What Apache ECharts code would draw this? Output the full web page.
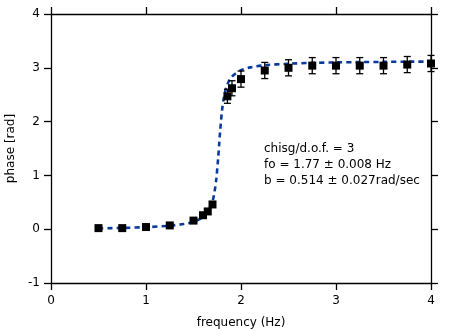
<!DOCTYPE html>
<html>
<head>
<meta charset="utf-8">
<script src="https://cdn.jsdelivr.net/npm/echarts@6/dist/echarts.min.js"></script>
<style>
html,body{margin:0;padding:0;background:#fff;}
#chart{width:459px;height:329px;}
</style>
</head>
<body>
<div id="chart"></div>
<script>
// Measured data
const freq = [0.5, 0.75, 1.0, 1.25, 1.5, 1.6, 1.65, 1.7, 1.857, 1.905, 2.0, 2.25, 2.5, 2.75, 3.0, 3.25, 3.5, 3.75, 4.0];
const phase = [0.02, 0.02, 0.04, 0.07, 0.16, 0.26, 0.33, 0.46, 2.47, 2.62, 2.79, 2.95, 3.0, 3.04, 3.04, 3.04, 3.04, 3.06, 3.08];
const phaseErr = [0.03, 0.03, 0.03, 0.03, 0.03, 0.03, 0.03, 0.04, 0.13, 0.14, 0.15, 0.15, 0.15, 0.15, 0.15, 0.15, 0.15, 0.15, 0.15];

// Fit curve
const fitFreq = [0.5, 0.75, 1.0, 1.25, 1.4, 1.5, 1.6, 1.65, 1.7, 1.72, 1.74, 1.76, 1.77, 1.78, 1.8, 1.82, 1.85, 1.9, 2.0, 2.1, 2.25, 2.5, 2.75, 3.0, 3.25, 3.5, 3.75, 4.0];
const fitPhase = [0.014, 0.024, 0.038, 0.065, 0.097, 0.138, 0.225, 0.318, 0.52, 0.679, 0.934, 1.331, 1.571, 1.81, 2.2, 2.449, 2.66, 2.827, 2.955, 3.008, 3.047, 3.076, 3.091, 3.1, 3.106, 3.11, 3.114, 3.116];

const xTicks = [0, 1, 2, 3, 4];
const yTicks = [-1, 0, 1, 2, 3, 4];

const annotation = ['chisg/d.o.f. = 3', 'fo = 1.77 \u00b1 0.008 Hz', 'b = 0.514 \u00b1 0.027rad/sec'];

const FONT = 'DejaVu Sans';
const chart = echarts.init(document.getElementById('chart'), null, {renderer: 'canvas'});

const axisCommon = {
  axisLine: {show: true, onZero: false, lineStyle: {color: '#000', width: 1.3}},
  axisTick: {show: true, inside: false, length: 7, lineStyle: {color: '#000', width: 1.3}},
  splitLine: {show: false}
};

const option = {
  animation: false,
  backgroundColor: '#fff',
  grid: {left: 51, right: 28, top: 14, bottom: 46, containLabel: false, outerBoundsMode: 'none'},
  xAxis: [
    Object.assign({
      type: 'value', min: xTicks[0], max: xTicks[xTicks.length - 1], interval: 1, position: 'bottom',
      name: 'frequency (Hz)', nameLocation: 'middle', nameGap: 34,
      nameTextStyle: {fontFamily: FONT, fontSize: 12, color: '#000'},
      axisLabel: {fontFamily: FONT, fontSize: 12, color: '#000', margin: 12}
    }, axisCommon),
    Object.assign({
      type: 'value', min: xTicks[0], max: xTicks[xTicks.length - 1], interval: 1, position: 'top',
      axisLabel: {show: false}
    }, axisCommon)
  ],
  yAxis: [
    Object.assign({
      type: 'value', min: yTicks[0], max: yTicks[yTicks.length - 1], interval: 1, position: 'left',
      name: 'phase [rad]', nameLocation: 'middle', nameGap: 32, nameRotate: 90,
      nameTextStyle: {fontFamily: FONT, fontSize: 12, color: '#000'},
      axisLabel: {fontFamily: FONT, fontSize: 12, color: '#000', margin: 11}
    }, axisCommon),
    Object.assign({
      type: 'value', min: yTicks[0], max: yTicks[yTicks.length - 1], interval: 1, position: 'right',
      axisLabel: {show: false}
    }, axisCommon)
  ],
  series: [
    {
      type: 'line',
      data: fitFreq.map((f, i) => [f, fitPhase[i]]),
      showSymbol: false,
      smooth: 0.3,
      lineStyle: {color: '#0a3a9c', width: 2.6, type: [5, 4]},
      z: 2
    },
    {
      type: 'custom',
      data: freq.map((f, i) => [f, phase[i] - phaseErr[i], phase[i] + phaseErr[i]]),
      renderItem: function (params, api) {
        const x = api.value(0);
        const lo = api.coord([x, api.value(1)]);
        const hi = api.coord([x, api.value(2)]);
        const hw = 3.5;
        const style = {stroke: '#000', lineWidth: 1.3};
        return {
          type: 'group',
          children: [
            {type: 'line', shape: {x1: lo[0], y1: lo[1], x2: hi[0], y2: hi[1]}, style: style},
            {type: 'line', shape: {x1: lo[0] - hw, y1: lo[1], x2: lo[0] + hw, y2: lo[1]}, style: style},
            {type: 'line', shape: {x1: hi[0] - hw, y1: hi[1], x2: hi[0] + hw, y2: hi[1]}, style: style}
          ]
        };
      },
      z: 3
    },
    {
      type: 'scatter',
      data: freq.map((f, i) => [f, phase[i]]),
      symbol: 'rect',
      symbolSize: 8,
      itemStyle: {color: '#000', opacity: 1},
      z: 4
    }
  ],
  graphic: annotation.map((t, i) => ({
    type: 'text',
    left: 264,
    top: 143 + i * 16,
    style: {text: t, font: '12px ' + FONT, fill: '#000'}
  }))
};

chart.setOption(option);
</script>
</body>
</html>
